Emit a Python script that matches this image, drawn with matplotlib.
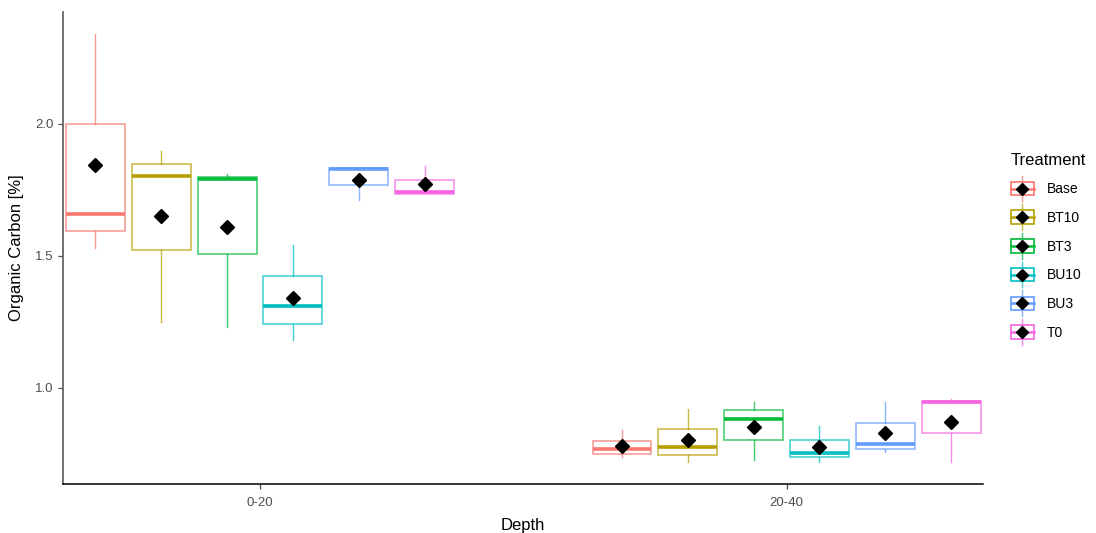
import matplotlib
matplotlib.use("Agg")
import matplotlib.pyplot as plt
import numpy as np
from matplotlib.patches import Rectangle, Patch
from matplotlib.lines import Line2D
from matplotlib.legend_handler import HandlerBase

plt.rcParams['font.family'] = ['Liberation Sans', 'DejaVu Sans']

depths = ["0-20", "20-40"]
treatments = ["Base", "BT10", "BT3", "BU10", "BU3", "T0"]
colors = ["#F8766D", "#B79F00", "#00BA38", "#00BFC4", "#619CFF", "#F564E3"]

# per treatment: [0-20, 20-40]
whisker_low = {
    "Base": [1.531, 0.740], "BT10": [1.249, 0.720], "BT3": [1.232, 0.727],
    "BU10": [1.182, 0.720], "BU3": [1.712, 0.758], "T0": [1.736, 0.720],
}
q1 = {
    "Base": [1.596, 0.749], "BT10": [1.524, 0.745], "BT3": [1.506, 0.804],
    "BU10": [1.242, 0.737], "BU3": [1.768, 0.770], "T0": [1.736, 0.830],
}
medians = {
    "Base": [1.659, 0.768], "BT10": [1.803, 0.776], "BT3": [1.790, 0.884],
    "BU10": [1.311, 0.754], "BU3": [1.831, 0.789], "T0": [1.741, 0.947],
}
q3 = {
    "Base": [2.000, 0.800], "BT10": [1.847, 0.846], "BT3": [1.800, 0.918],
    "BU10": [1.423, 0.804], "BU3": [1.833, 0.867], "T0": [1.789, 0.951],
}
whisker_high = {
    "Base": [2.341, 0.840], "BT10": [1.899, 0.919], "BT3": [1.811, 0.947],
    "BU10": [1.542, 0.855], "BU3": [1.833, 0.948], "T0": [1.841, 0.957],
}
means = {
    "Base": [1.843, 0.779], "BT10": [1.650, 0.803], "BT3": [1.610, 0.853],
    "BU10": [1.342, 0.777], "BU3": [1.789, 0.830], "T0": [1.774, 0.872],
}

slot = 0.125
box_w = 0.112

fig = plt.figure(figsize=(10.96, 5.33), dpi=100)
ax = fig.add_axes([63 / 1096, 49 / 533, 920 / 1096, 472 / 533])

for i, t in enumerate(treatments):
    c = colors[i]
    for g in range(len(depths)):
        xc = g + (i - 2.5) * slot
        lo, a, m, b, hi = whisker_low[t][g], q1[t][g], medians[t][g], q3[t][g], whisker_high[t][g]
        ax.plot([xc, xc], [b, hi], color=c, lw=1.0, alpha=0.75, zorder=2)
        ax.plot([xc, xc], [lo, a], color=c, lw=1.0, alpha=0.75, zorder=2)
        ax.add_patch(Rectangle((xc - box_w / 2, a), box_w, b - a, fill=False,
                               edgecolor=c, lw=1.2, alpha=0.7, zorder=3))
        ax.plot([xc - box_w / 2, xc + box_w / 2], [m, m], color=c, lw=2.6, zorder=4,
                solid_capstyle='butt')
        ax.plot(xc, means[t][g], marker='D', color='black', ms=7, zorder=5)

ax.set_xlim(-0.374, 1.373)
ax.set_ylim(0.636, 2.424)
ax.set_xticks(range(len(depths)))
ax.set_xticklabels(depths)
ax.set_yticks([1.0, 1.5, 2.0])
ax.set_yticklabels(["1.0", "1.5", "2.0"])
ax.tick_params(axis='both', colors='#4D4D4D', labelcolor='#4D4D4D', labelsize=9.5,
               length=3.5, width=0.9)
ax.tick_params(axis='x', pad=6)
for s in ['top', 'right']:
    ax.spines[s].set_visible(False)
ax.spines['left'].set_color('#666666')
ax.spines['left'].set_linewidth(1.3)
ax.spines['bottom'].set_color('black')
ax.spines['bottom'].set_linewidth(1.1)
ax.set_xlabel("Depth", fontsize=12, labelpad=6)
ax.set_ylabel("Organic Carbon [%]", fontsize=12, labelpad=8)


class BoxKeyHandler(HandlerBase):
    def create_artists(self, legend, orig_handle, xdescent, ydescent, width, height,
                       fontsize, trans):
        c = orig_handle.get_edgecolor()
        cx = width / 2 - xdescent
        cy = height / 2 - ydescent
        bw = width * 0.95
        bh = height * 0.95
        arts = []
        arts.append(Line2D([cx, cx], [cy - height * 0.9, cy + height * 0.9], color=c, lw=1.0,
                           alpha=0.75, transform=trans))
        r = Rectangle((cx - bw / 2, cy - bh / 2), bw, bh, facecolor='white', edgecolor=c,
                      lw=1.2, alpha=1.0, transform=trans)
        arts.append(r)
        arts.append(Line2D([cx - bw / 2, cx + bw / 2], [cy, cy], color=c, lw=1.8, transform=trans))
        arts.append(Line2D([cx], [cy], marker='D', color='black', ms=6.5, transform=trans))
        return arts


handles = [Patch(edgecolor=colors[i], facecolor='white', label=t) for i, t in enumerate(treatments)]
leg = fig.legend(handles=handles, labels=treatments, title="Treatment",
                 handler_map={Patch: BoxKeyHandler()},
                 loc='upper left', bbox_to_anchor=(998 / 1096, 1 - 140 / 533),
                 frameon=False, fontsize=10, title_fontsize=12,
                 handlelength=1.7, handleheight=1.2, labelspacing=1.0,
                 handletextpad=0.9, alignment='left')

fig.savefig("out.png", dpi=100)
